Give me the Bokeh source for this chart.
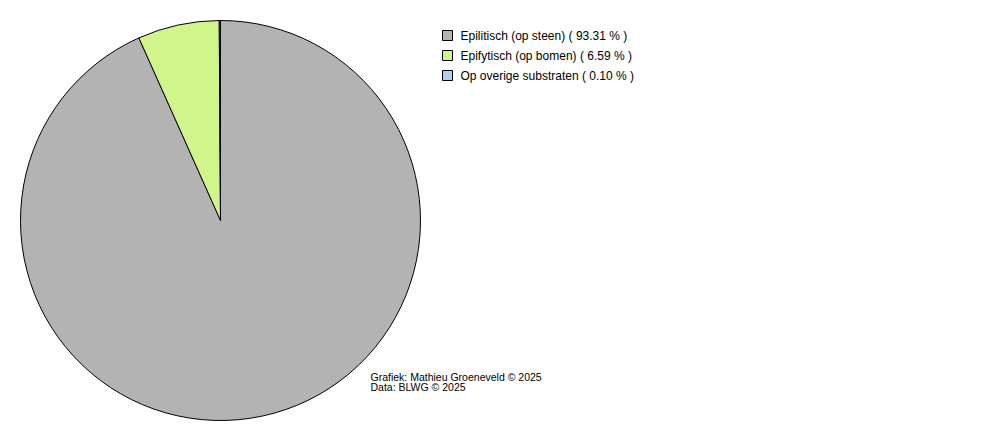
import math
from bokeh.plotting import figure
from bokeh.models import Range1d, ColumnDataSource
from bokeh.core.properties import value
from bokeh.embed import file_html
from bokeh.resources import INLINE

categories = ["Epilitisch (op steen)", "Epifytisch (op bomen)", "Op overige substraten"]
percentages = [93.31, 6.59, 0.10]
colors = ["#b3b3b3", "#d0f58a", "#b3cff0"]
credits = ["Grafiek: Mathieu Groeneveld \u00a9 2025", "Data: BLWG \u00a9 2025"]

W, H = 984, 424
p = figure(width=W, height=H, output_backend="svg", toolbar_location=None,
           x_range=Range1d(0, W), y_range=Range1d(440 - H, 440),
           min_border=0)
p.axis.visible = False
p.grid.visible = False
p.outline_line_color = None
p.background_fill_color = "white"

def Y(y):
    return 440 - y

cx, cy, r = 220, 220, 200
total = sum(percentages)
starts, ends = [], []
a = math.pi / 2
for v in percentages:
    span = v / total * 2 * math.pi
    starts.append(a - span)
    ends.append(a)
    a -= span

src = ColumnDataSource(dict(start=starts, end=ends, color=colors))
p.wedge(x=cx, y=Y(cy), radius=r, start_angle="start", end_angle="end",
        fill_color="color", line_color="black", line_width=1, source=src)

# legend
lx, ly0, step = 442, 30, 20
labels = ["%s ( %.2f %% )" % (c, v) for c, v in zip(categories, percentages)]
for i, (lab, col) in enumerate(zip(labels, colors)):
    y = ly0 + i * step
    p.quad(left=lx, right=lx + 10, top=Y(y), bottom=Y(y + 10),
           fill_color=col, line_color="black", line_width=1)
    p.text(x=[lx + 18], y=[Y(y + 5)], text=[lab], text_font=value("Liberation Sans"),
           text_font_size="12px", text_baseline="middle", text_color="black")

for i, t in enumerate(credits):
    p.text(x=[370], y=[Y(376 + i * 10)], text=[t], text_font=value("Liberation Sans"),
           text_font_size="10.5px", text_baseline="middle", text_color="black")

open("out.html", "w").write(file_html(p, INLINE))
